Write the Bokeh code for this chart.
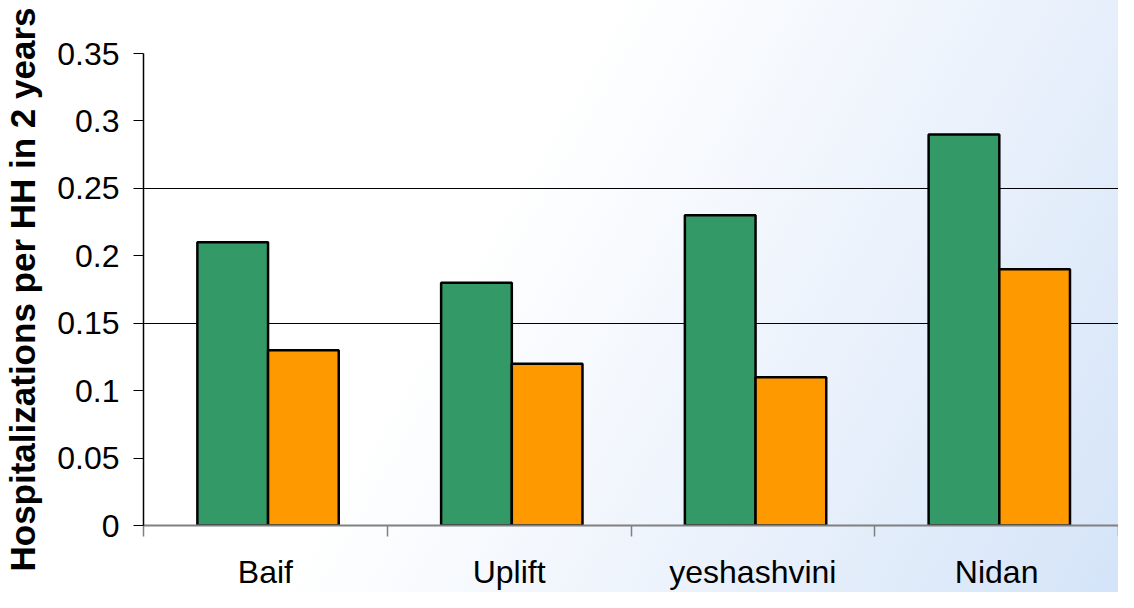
from bokeh.plotting import figure
from bokeh.models import FixedTicker, Range1d, ColumnDataSource
from bokeh.embed import file_html
from bokeh.resources import INLINE

categories = ["Baif", "Uplift", "yeshashvini", "Nidan"]
series_a = [0.21, 0.18, 0.23, 0.29]   # green
series_b = [0.13, 0.12, 0.11, 0.19]   # orange
y_ticks = [0, 0.05, 0.1, 0.15, 0.2, 0.25, 0.3, 0.35]
y_tick_labels = ["0", "0.05", "0.1", "0.15", "0.2", "0.25", "0.3", "0.35"]
grid_ticks = [0.15, 0.25]
y_title = "Hospitalizations per HH in 2 years"

FONT = "Liberation Sans"
BAR_W = 0.29

idx = list(range(len(categories)))
src_a = ColumnDataSource(dict(x=[i + 0.366 for i in idx], top=series_a))
src_b = ColumnDataSource(dict(x=[i + 0.656 for i in idx], top=series_b))

p = figure(width=1118, height=592, output_backend="svg", toolbar_location=None,
           x_range=Range1d(0, len(categories)), y_range=Range1d(0, 0.35),
           min_border_left=141, min_border_top=53, min_border_right=0,
           min_border_bottom=0,
           styles={"background-image": "linear-gradient(120deg, #ffffff 0%, #ffffff 42%, #edf3fc 68%, #d4e4f8 100%)"})
p.border_fill_color = None
p.background_fill_color = None
p.outline_line_color = None

p.vbar(x="x", top="top", width=BAR_W, source=src_a, fill_color="#339966",
       line_color="black", line_width=2.5)
p.vbar(x="x", top="top", width=BAR_W, source=src_b, fill_color="#FF9900",
       line_color="black", line_width=2.5)

# x axis: labels at category centres, ticks at boundaries
xa = p.xaxis[0]
xa.ticker = FixedTicker(ticks=[i + 0.5 for i in idx], minor_ticks=list(range(len(categories) + 1)))
xa.major_label_overrides = {i + 0.5: c for i, c in zip(idx, categories)}
xa.major_tick_out = 0
xa.major_tick_in = 0
xa.minor_tick_out = 11
xa.minor_tick_in = 0
xa.minor_tick_line_color = "#808080"
xa.minor_tick_line_width = 1.5
xa.axis_line_color = "#808080"
xa.axis_line_width = 2
xa.major_label_text_font = FONT
xa.major_label_text_font_size = "32px"
xa.major_label_text_color = "black"
xa.major_label_standoff = 17

ya = p.yaxis[0]
ya.ticker = FixedTicker(ticks=y_ticks, minor_ticks=[])
ya.major_label_overrides = {t: l for t, l in zip(y_ticks, y_tick_labels)}
ya.major_tick_out = 10
ya.major_tick_in = 0
ya.major_tick_line_color = "black"
ya.major_tick_line_width = 1
ya.axis_line_color = "black"
ya.axis_line_width = 1.5
ya.major_label_text_font = FONT
ya.major_label_text_font_size = "32px"
ya.major_label_text_color = "black"
ya.major_label_standoff = 14
ya.axis_label = y_title
ya.axis_label_text_font = FONT
ya.axis_label_text_font_style = "bold"
ya.axis_label_text_font_size = "35px"
ya.axis_label_text_color = "black"
ya.axis_label_standoff = 12

p.xgrid.grid_line_color = None
p.ygrid.ticker = FixedTicker(ticks=grid_ticks)
p.ygrid.grid_line_color = "black"
p.ygrid.grid_line_width = 1.2

open("out.html", "w").write(file_html(p, INLINE))
